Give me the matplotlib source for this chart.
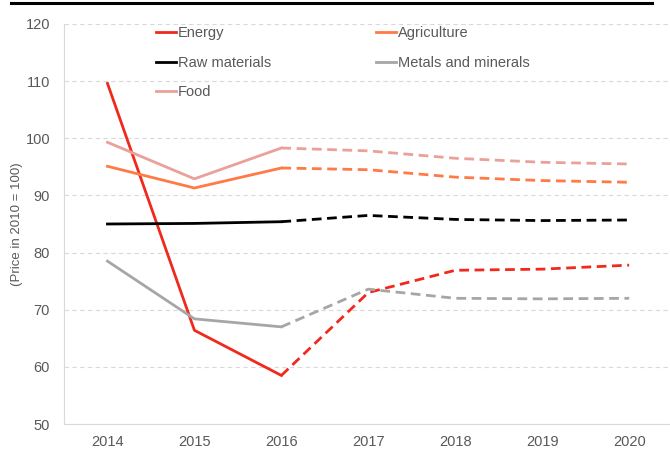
import matplotlib.pyplot as plt
from matplotlib.lines import Line2D

plt.rcParams['font.family'] = ['Liberation Sans', 'DejaVu Sans']

years = ['2014', '2015', '2016', '2017', '2018', '2019', '2020']
energy = [109.6, 66.4, 58.5, 73.0, 76.9, 77.1, 77.8]
agriculture = [95.1, 91.3, 94.8, 94.5, 93.2, 92.6, 92.3]
raw_materials = [85.0, 85.1, 85.4, 86.5, 85.8, 85.6, 85.7]
metals = [78.5, 68.4, 67.0, 73.6, 72.0, 71.9, 72.0]
food = [99.3, 92.9, 98.3, 97.8, 96.5, 95.8, 95.5]

series = [
    ('Energy', energy, '#F0291C'),
    ('Raw materials', raw_materials, '#000000'),
    ('Food', food, '#E9A199'),
    ('Agriculture', agriculture, '#FF7A45'),
    ('Metals and minerals', metals, '#A6A6A6'),
]

split = 2  # last actual year index (2016), forecasts after

fig = plt.figure(figsize=(6.7, 4.49), dpi=100)
ax = fig.add_axes([64 / 670, 25 / 449, 1 - 64 / 670, 400 / 449])
x = list(range(len(years)))

for name, vals, col in series:
    ax.plot(x[:split + 1], vals[:split + 1], color=col, lw=2, label=name)
    ax.plot(x[split:], vals[split:], color=col, lw=2, ls=(0, (3.5, 2)))

ax.set_xlim(-0.5, 6.47)
ax.set_ylim(50, 120)
ax.set_yticks(range(50, 121, 10))
ax.set_xticks(x)
ax.set_xticklabels(years)
ax.tick_params(length=0, labelsize=10.5, labelcolor='#595959', pad=8)
ax.tick_params(axis='y', pad=10)
ax.grid(axis='y', color='#D9D9D9', ls=(0, (4, 3)), lw=0.8)
ax.set_axisbelow(True)
for s in ['top', 'right']:
    ax.spines[s].set_visible(False)
for s in ['left', 'bottom']:
    ax.spines[s].set_color('#D9D9D9')

ax.set_ylabel('(Price in 2010 = 100)', fontsize=9.5, color='#595959', labelpad=2)

leg = ax.legend(ncol=2, loc='upper left', bbox_to_anchor=(0.13, 1.027), frameon=False,
                fontsize=10.5, handlelength=1.4, handletextpad=0.1,
                columnspacing=7.2, labelspacing=1.05)
for t in leg.get_texts():
    t.set_color('#595959')

fig.add_artist(Line2D([11 / 670, 652 / 670], [1 - 3 / 449, 1 - 3 / 449],
                      color='black', lw=2.2))

fig.savefig('out.png', dpi=100)
